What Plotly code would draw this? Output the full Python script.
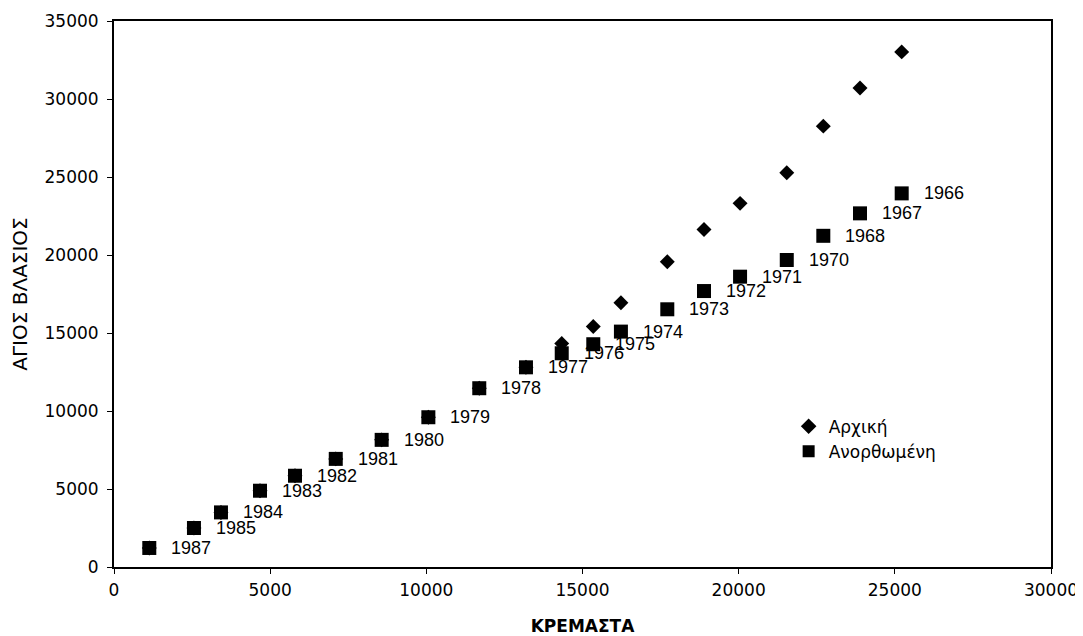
import plotly.graph_objects as go

years = ["1966", "1967", "1968", "1970", "1971", "1972", "1973", "1974", "1975",
         "1976", "1977", "1978", "1979", "1980", "1981", "1982", "1983", "1984",
         "1985", "1987"]

# ΚΡΕΜΑΣΤΑ (x) for the corrected series
kremasta = [25220, 23885, 22710, 21540, 20045, 18890, 17715, 16230, 15345,
            14335, 13190, 11695, 10065, 8570, 7100, 5795, 4675, 3425,
            2560, 1130]

# ΑΓΙΟΣ ΒΛΑΣΙΟΣ, corrected (Ανορθωμένη)
corrected = [23950, 22670, 21230, 19680, 18610, 17690, 16520, 15090, 14280,
             13700, 12800, 11460, 9600, 8150, 6930, 5850, 4890, 3500,
             2500, 1220]

# ΑΓΙΟΣ ΒΛΑΣΙΟΣ, original (Αρχική)
original = [33020, 30710, 28260, 25270, 23310, 21640, 19570, 16940, 15410,
            14330, 12800, 11460, 9600, 8150, 6930, 5850, 4890, 3500,
            2500, 1220]

x_ticks = [0, 5000, 10000, 15000, 20000, 25000, 30000]
y_ticks = [0, 5000, 10000, 15000, 20000, 25000, 30000, 35000]

FONT = "DejaVu Sans, sans-serif"
FONT_LAB = "Liberation Sans, Arial, sans-serif"

fig = go.Figure()
fig.add_trace(go.Scatter(
    x=kremasta, y=original, mode="markers", name="Αρχική",
    marker=dict(symbol="diamond", size=11.5, color="black"),
))
fig.add_trace(go.Scatter(
    x=kremasta, y=corrected, mode="markers", name="Ανορθωμένη",
    marker=dict(symbol="square", size=14, color="black"),
))

for xv, yv, lab in zip(kremasta, corrected, years):
    fig.add_annotation(x=xv, y=yv, text=lab, showarrow=False,
                       xanchor="left", yanchor="middle", xshift=20,
                       font=dict(family=FONT_LAB, size=18, color="black"))

fig.update_layout(
    width=1075, height=628,
    margin=dict(l=106, r=32, t=13, b=69),
    paper_bgcolor="white", plot_bgcolor="white",
    font=dict(family=FONT, size=17, color="black"),
    showlegend=True,
    legend=dict(x=0.72, y=0.29, xanchor="left", yanchor="top",
                bgcolor="rgba(0,0,0,0)", font=dict(family=FONT, size=17),
                itemsizing="constant", tracegroupgap=0),
)
fig.update_xaxes(
    range=[0, 30000], tickvals=x_ticks, ticktext=[str(v) for v in x_ticks],
    showgrid=False, zeroline=False, showline=True, linecolor="black",
    linewidth=2, mirror=True, ticks="outside", ticklen=5, tickcolor="black",
    tickfont=dict(family=FONT, size=17), ticklabelstandoff=2, automargin=False,
    title=dict(text="<b>ΚΡΕΜΑΣΤΑ</b>", font=dict(family=FONT, size=17), standoff=22),
)
fig.update_yaxes(
    range=[0, 35000], tickvals=y_ticks, ticktext=[str(v) for v in y_ticks],
    showgrid=False, zeroline=False, showline=True, linecolor="black",
    linewidth=2, mirror=True, ticks="outside", ticklen=5, tickcolor="black",
    tickfont=dict(family=FONT, size=17), ticklabelstandoff=5, automargin=False,
    title=dict(text="ΑΓΙΟΣ ΒΛΑΣΙΟΣ", font=dict(family=FONT, size=20), standoff=16),
)

fig.write_html("out.html")
